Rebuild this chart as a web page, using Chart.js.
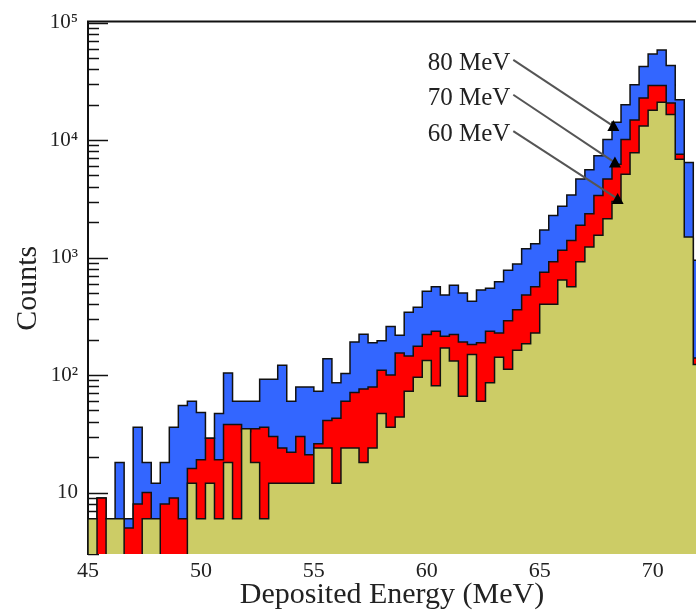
<!DOCTYPE html>
<html>
<head>
<meta charset="utf-8">
<script src="https://cdn.jsdelivr.net/npm/chart.js@4.4.1/dist/chart.umd.min.js"></script>
<style>
  html, body { margin: 0; padding: 0; background: #fff; }
</style>
</head>
<body>
<canvas id="grafico" width="696" height="613"></canvas>
<script>
// bins de 0.4 MeV a partir de 45 MeV
const inicioBin = 45;
const larguraBin = 0.4;

const blue80 = [6, 9, 6, 18, 6, 36, 18, 12, 18, 36,
  55, 60, 48, 29, 47, 104, 60, 60, 60, 92,
  92, 121, 60, 79, 79, 73, 138, 86, 103, 191,
  223, 188, 196, 259, 218, 342, 377, 516, 565, 480,
  581, 500, 425, 530, 548, 623, 780, 880, 1190, 1310,
  1720, 2280, 2740, 3410, 4660, 5590, 7340, 10100, 14200, 20000,
  29600, 42300, 54100, 58500, 43100, 22100, 6440, 950];

const red70 = [6, 9, 6, 6, 5, 8, 10, 6, 8, 9,
  6, 16, 19, 29, 19, 38, 38, 33, 35, 36,
  30, 24, 22, 30, 21, 26, 41, 43, 60, 71,
  76, 79, 110, 100, 154, 145, 176, 221, 236, 214,
  221, 191, 182, 188, 236, 228, 290, 359, 480, 565,
  750, 920, 1155, 1400, 1880, 2360, 3370, 4660, 6230, 10100,
  14800, 22800, 29200, 29200, 20700, 7570, 1450, 140];

const olive60 = [6, 0, 6, 6, 0, 0, 6, 6, 0, 0,
  0, 12, 6, 12, 6, 18, 6, 35, 18, 6,
  12, 12, 12, 12, 12, 24, 24, 12, 24, 24,
  18, 24, 47, 36, 44, 73, 96, 133, 81, 170,
  132, 66, 150, 60, 86, 142, 112, 163, 185, 228,
  401, 401, 644, 565, 920, 1232, 1546, 2137, 3000, 5130,
  7820, 13150, 17960, 20990, 16490, 6870, 1496, 123];

const xTicks = [45, 50, 55, 60, 65, 70];
const yDecadas = { 10: "10", 100: "10²", 1000: "10³", 10000: "10⁴", 100000: "10⁵" };

// rótulos com setas (coordenadas em MeV / contagens)
const rotulos = ["80 MeV", "70 MeV", "60 MeV"];
const inicioSeta = [[63.83, 48100], [63.83, 24300], [63.83, 11940]];
const pontaSeta = [[68.26, 13150], [68.33, 6440], [68.45, 3155]];

const FONTE = "'Liberation Serif', 'DejaVu Serif', serif";
const PISO = 1; // contagem zero fica abaixo do eixo

function degraus(contagens) {
  const pts = [{ x: inicioBin, y: PISO }];
  contagens.forEach((c, i) => pts.push({ x: inicioBin + i * larguraBin, y: Math.max(c, PISO) }));
  pts.push({ x: inicioBin + contagens.length * larguraBin, y: Math.max(contagens[contagens.length - 1], PISO) });
  pts.push({ x: inicioBin + contagens.length * larguraBin, y: PISO });
  return pts;
}

function serie(label, contagens, cor) {
  return {
    label,
    data: degraus(contagens),
    stepped: "before",
    fill: "start",
    backgroundColor: cor,
    borderColor: "#111",
    borderWidth: 1.5,
    borderJoinStyle: "miter",
    pointRadius: 0,
    pointHoverRadius: 0
  };
}

const marcasY = {
  id: "marcasY",
  beforeDatasetsDraw(chart) {
    const { ctx, chartArea, scales: { y } } = chart;
    ctx.save();
    ctx.strokeStyle = "#111";
    ctx.lineWidth = 1.5;
    for (let e = 0; e <= 5; e++) {
      for (let m = 1; m <= 9; m++) {
        const v = m * Math.pow(10, e);
        if (v < y.min || v > y.max) continue;
        const py = Math.round(y.getPixelForValue(v)) + 0.5;
        const len = m === 1 ? 20 : 11;
        ctx.beginPath();
        ctx.moveTo(chartArea.left, py);
        ctx.lineTo(chartArea.left + len, py);
        ctx.stroke();
      }
    }
    ctx.restore();
  },
  afterDraw(chart) {
    const { ctx, chartArea } = chart;
    ctx.save();
    ctx.strokeStyle = "#111";
    ctx.lineWidth = 2;
    ctx.beginPath();
    ctx.moveTo(chartArea.left - 1, chartArea.top - 1);
    ctx.lineTo(chartArea.right, chartArea.top - 1);
    ctx.stroke();
    ctx.restore();
  }
};

const setas = {
  id: "setas",
  afterDatasetsDraw(chart) {
    const { ctx, scales: { x, y } } = chart;
    ctx.save();
    rotulos.forEach((txt, i) => {
      const x0 = x.getPixelForValue(inicioSeta[i][0]);
      const y0 = y.getPixelForValue(inicioSeta[i][1]);
      const x1 = x.getPixelForValue(pontaSeta[i][0]);
      const y1 = y.getPixelForValue(pontaSeta[i][1]);

      ctx.font = "25px " + FONTE;
      ctx.fillStyle = "#222";
      ctx.textAlign = "right";
      ctx.textBaseline = "alphabetic";
      ctx.fillText(txt, x0 - 3, y0 + 10);

      ctx.strokeStyle = "#555";
      ctx.lineWidth = 2;
      ctx.beginPath();
      ctx.moveTo(x0, y0);
      ctx.lineTo(x1, y1);
      ctx.stroke();

      ctx.fillStyle = "#000";
      ctx.beginPath();
      ctx.moveTo(x1, y1 - 6);
      ctx.lineTo(x1 - 6, y1 + 5);
      ctx.lineTo(x1 + 6, y1 + 5);
      ctx.closePath();
      ctx.fill();
    });
    ctx.restore();
  }
};

function gerarGrafico() {
  const ctx = document.getElementById("grafico");
  new Chart(ctx, {
    type: "line",
    data: {
      datasets: [
        serie("60 MeV", olive60, "#cccc66"),
        serie("70 MeV", red70, "#ff0000"),
        serie("80 MeV", blue80, "#3366ff")
      ]
    },
    options: {
      responsive: false,
      animation: false,
      devicePixelRatio: 1,
      layout: { padding: { top: 19, right: 0, bottom: 0, left: 0 } },
      plugins: { legend: { display: false }, tooltip: { enabled: false } },
      scales: {
        x: {
          type: "linear",
          min: 45,
          max: 71.92,
          afterFit: s => { s.height = 59; },
          afterBuildTicks: s => { s.ticks = xTicks.map(v => ({ value: v })); },
          ticks: { font: { family: FONTE, size: 22 }, color: "#222", padding: 4, maxRotation: 0 },
          grid: { display: false, drawTicks: false },
          border: { display: false },
          title: {
            display: true,
            text: "Deposited Energy (MeV)",
            font: { family: FONTE, size: 30 },
            color: "#222",
            padding: { top: 0, bottom: 0 }
          }
        },
        y: {
          type: "logarithmic",
          min: 3,
          max: 100000,
          afterFit: s => { s.width = 88; },
          afterBuildTicks: s => { s.ticks = Object.keys(yDecadas).map(v => ({ value: +v })); },
          ticks: {
            callback: v => yDecadas[v] || "",
            font: { family: FONTE, size: 21 },
            color: "#222",
            padding: 10,
            autoSkip: false
          },
          grid: { display: false, drawTicks: false },
          border: { display: true, color: "#111", width: 2 },
          title: {
            display: true,
            text: "Counts",
            font: { family: FONTE, size: 30 },
            color: "#222",
            padding: { top: 10, bottom: 0 }
          }
        }
      }
    },
    plugins: [marcasY, setas]
  });
}

gerarGrafico();
</script>
</body>
</html>
